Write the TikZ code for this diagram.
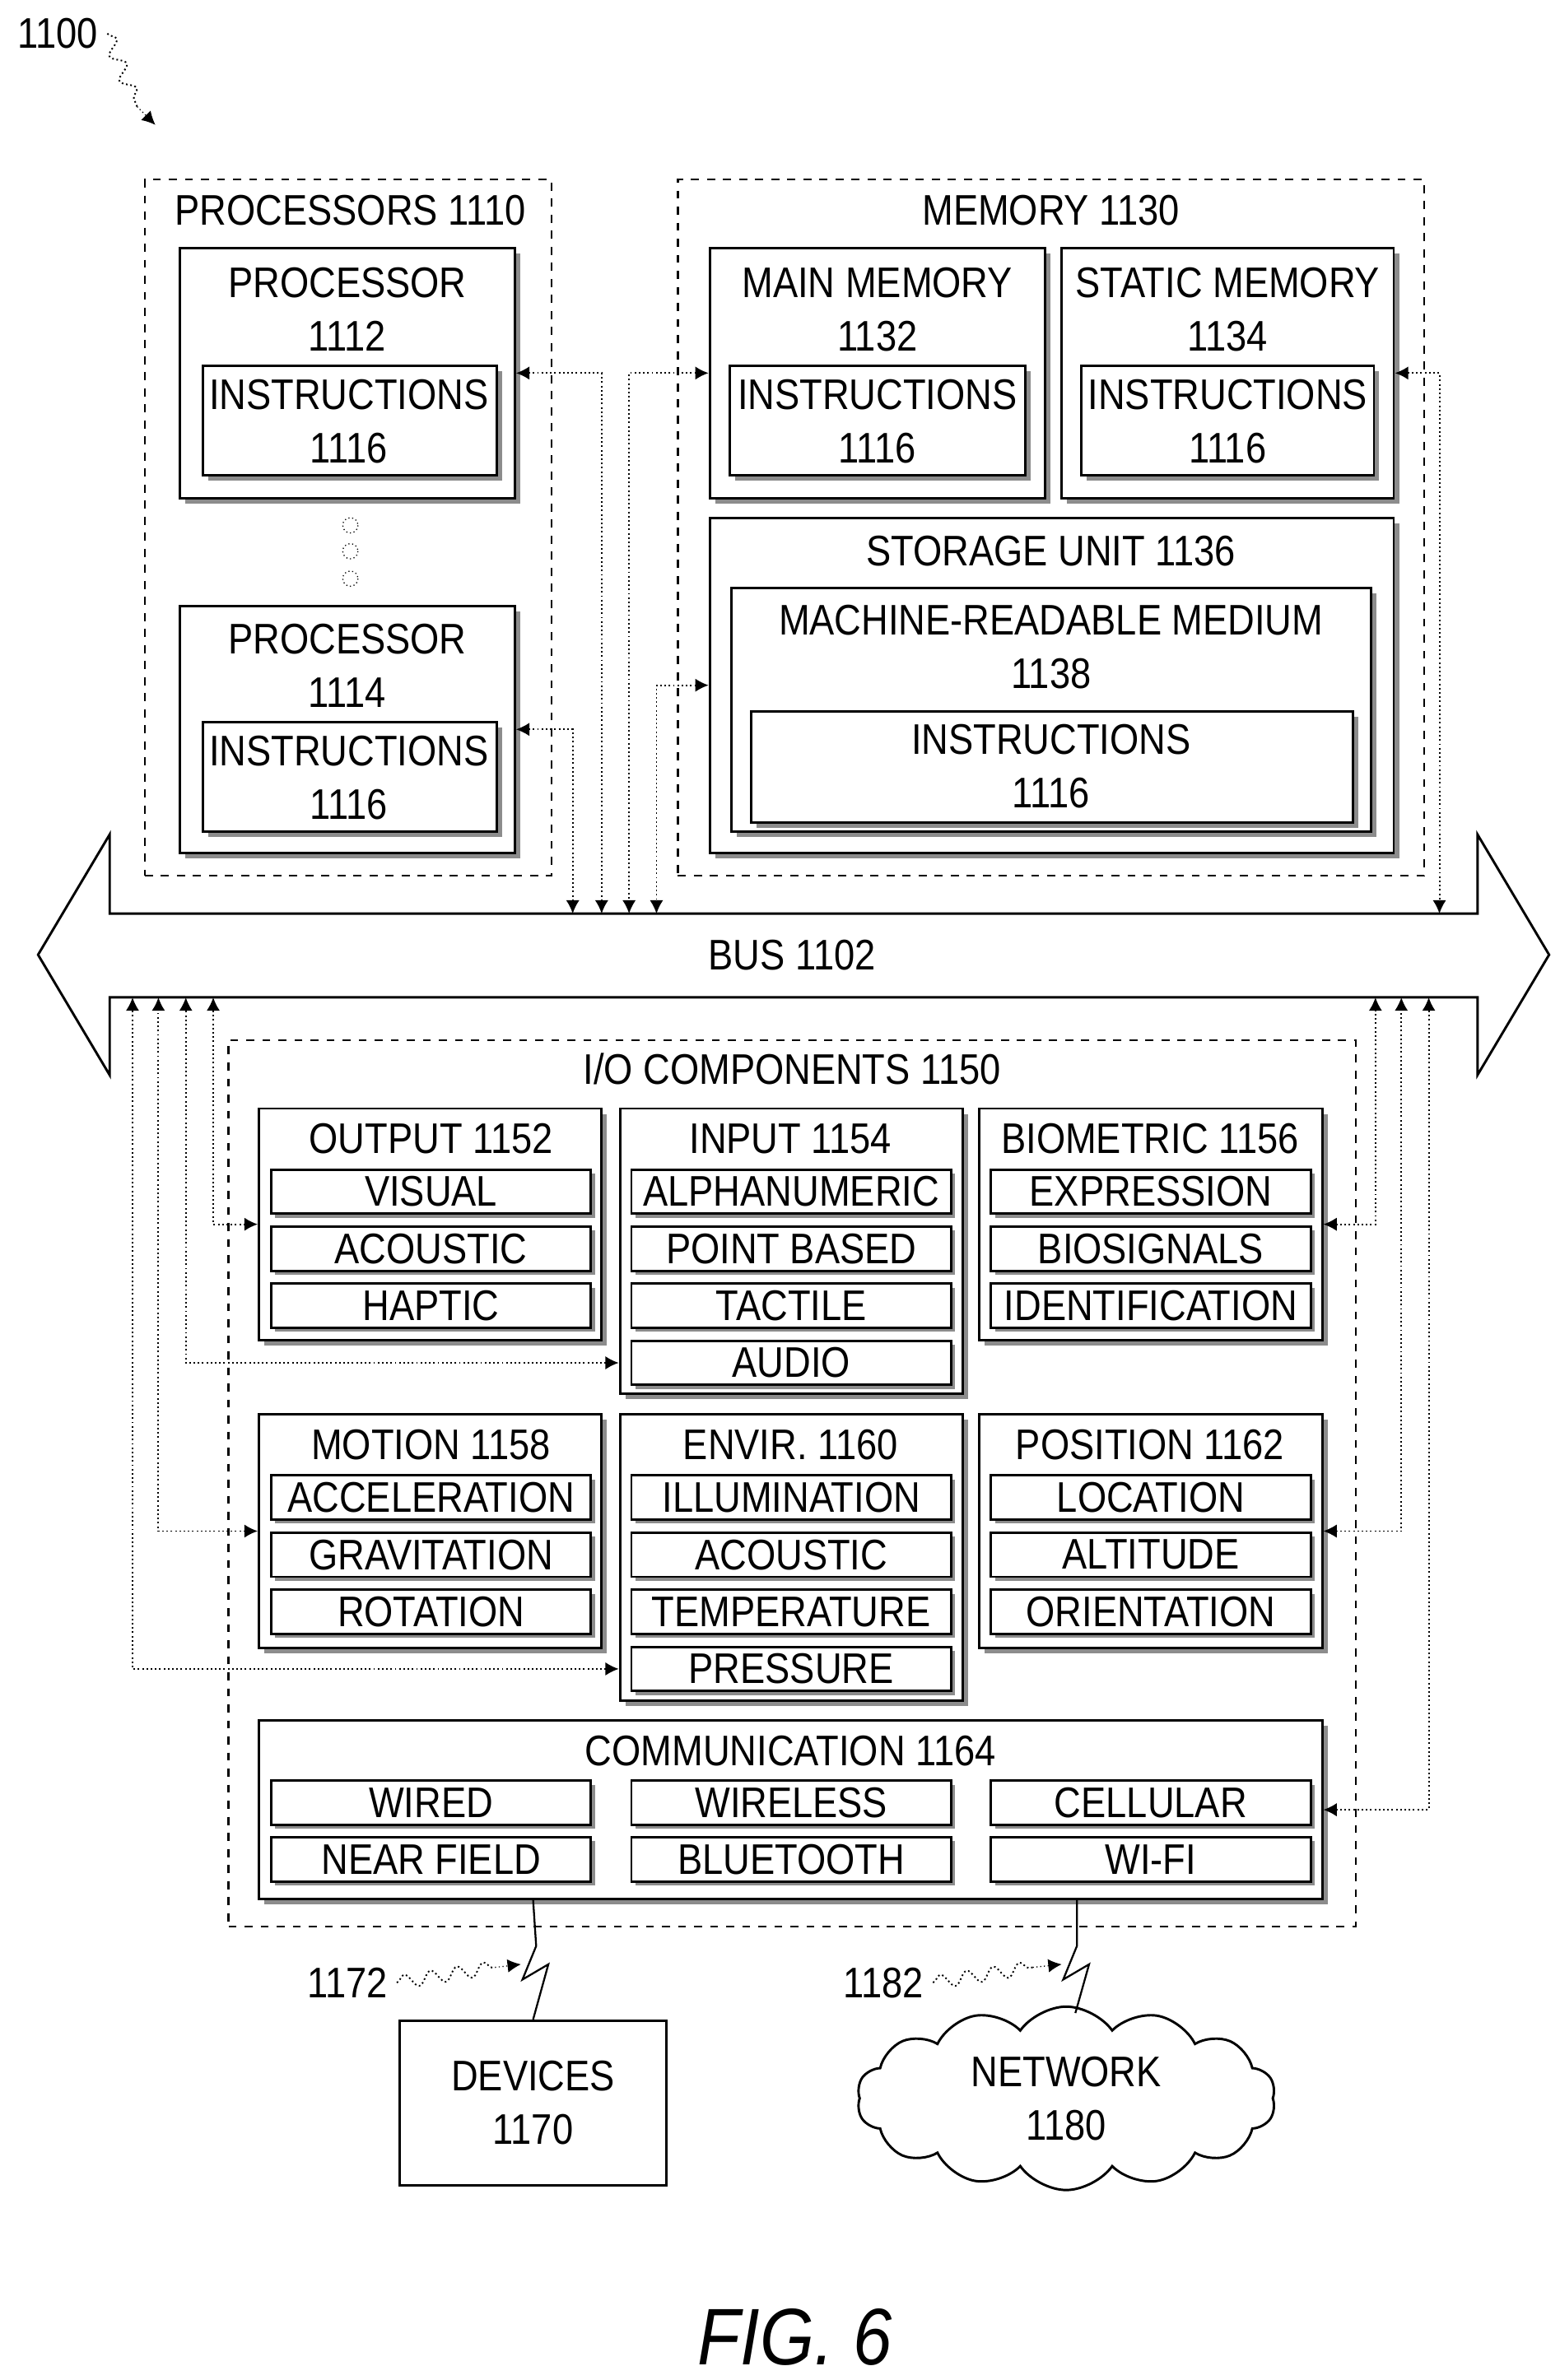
\documentclass[tikz,border=0pt]{standalone}
\usepackage{fontspec}
\setmainfont{Liberation Sans}[FakeStretch=0.87]
\usetikzlibrary{fit,shadows,shapes.symbols,decorations.pathmorphing,arrows.meta}

\tikzset{
  box/.style={draw, line width=0.9pt, fill=white, inner sep=0pt,
    drop shadow={shadow xshift=2pt, shadow yshift=-2pt, fill=black!45, opacity=1}},
  group/.style={draw, dashed, line width=0.7pt, inner sep=0pt},
  sub/.style={draw, line width=0.9pt, fill=white, minimum width=4.2cm, minimum height=0.58cm, inner sep=0pt,
    drop shadow={shadow xshift=1.5pt, shadow yshift=-1.5pt, fill=black!45, opacity=1}},
  conn/.style={densely dotted, line width=0.6pt, -{Latex[length=5pt,width=5pt]}},
  conn2/.style={densely dotted, line width=0.6pt, {Latex[length=5pt,width=5pt]}-{Latex[length=5pt,width=5pt]}},
  lbl/.style={align=center},
  squig/.style={densely dotted, line width=0.6pt, decorate, decoration={snake, amplitude=2.5pt, segment length=10pt}},
}

\begin{document}
\begin{tikzpicture}[x=0.02cm, y=-0.02cm, font=\fontsize{16}{20}\selectfont]
\useasboundingbox (0,0) rectangle (1024,1563);

% reference label
\node (fignum) at (38,22) {1100};
\coordinate (figtip) at (102,82);
\draw[squig] (fignum.east) -- (90,70);
\draw[densely dotted, -{Latex[length=5pt,width=5pt]}] (90,70) -- (figtip);

% processors
\node[group, fit={(95,118) (362,575)}] (procs) {};
\node at (230,138) {PROCESSORS 1110};
\node[box, fit={(118,163) (338,327)}] (p1) {};
\node[lbl] at (228,203) {PROCESSOR\\1112};
\node[box, fit={(133,240) (326,312)}] (p1i) {};
\node[lbl] at (229,277) {INSTRUCTIONS\\1116};
\foreach \y in {345,362,380} \draw[densely dotted] (230,\y) circle (5);
\node[box, fit={(118,398) (338,560)}] (p2) {};
\node[lbl] at (228,437) {PROCESSOR\\1114};
\node[box, fit={(133,474) (326,546)}] (p2i) {};
\node[lbl] at (229,511) {INSTRUCTIONS\\1116};

% memory
\node[group, fit={(445,118) (935,575)}] (mem) {};
\node at (690,138) {MEMORY 1130};
\node[box, fit={(466,163) (686,327)}] (mm) {};
\node[lbl] at (576,203) {MAIN MEMORY\\1132};
\node[box, fit={(479,240) (673,312)}] (mmi) {};
\node[lbl] at (576,277) {INSTRUCTIONS\\1116};
\node[box, fit={(697,163) (915,327)}] (sm) {};
\node[lbl] at (806,203) {STATIC MEMORY\\1134};
\node[box, fit={(710,240) (902,312)}] (smi) {};
\node[lbl] at (806,277) {INSTRUCTIONS\\1116};
\node[box, fit={(466,340) (915,560)}] (su) {};
\node at (690,362) {STORAGE UNIT 1136};
\node[box, fit={(480,386) (900,546)}] (mr) {};
\node[lbl] at (690,425) {MACHINE-READABLE MEDIUM\\1138};
\node[box, fit={(493,467) (888,540)}] (mri) {};
\node[lbl] at (690,503) {INSTRUCTIONS\\1116};

% bus
\draw[line width=0.9pt] (72,600) -- (72,548) -- (25,627) -- (72,706) -- (72,655) -- (970,655)
  -- (970,706) -- (1017,627) -- (970,548) -- (970,600) -- cycle;
\node (bus) at (520,627) {BUS 1102};
\foreach \n/\x in {a/376,b/395,c/413,d/431,e/945} \coordinate (t\n) at (\x,600);
\foreach \n/\x in {a/87,b/104,c/122,d/140,e/903,f/920,g/938} \coordinate (u\n) at (\x,655);

% i/o components
\node[group, fit={(150,683) (890,1265)}] (io) {};
\node at (520,702) {I/O COMPONENTS 1150};
\node[box, fit={(170,728) (395,880)}] (out) {};
\node at (283,748) {OUTPUT 1152};
\node[box, fit={(407,728) (632,915)}] (inp) {};
\node at (519,748) {INPUT 1154};
\node[box, fit={(643,728) (868,880)}] (bio) {};
\node at (755,748) {BIOMETRIC 1156};
\foreach \t [count=\i] in {VISUAL,ACOUSTIC,HAPTIC}
  \node[sub] (out\i) at (283,745+37.5*\i) {\t};
\foreach \t [count=\i] in {ALPHANUMERIC,POINT BASED,TACTILE,AUDIO}
  \node[sub] (inp\i) at (519.5,745+37.5*\i) {\t};
\foreach \t [count=\i] in {EXPRESSION,BIOSIGNALS,IDENTIFICATION}
  \node[sub] (bio\i) at (755.5,745+37.5*\i) {\t};

\node[box, fit={(170,929) (395,1082)}] (mot) {};
\node at (283,949) {MOTION 1158};
\node[box, fit={(407,929) (632,1117)}] (env) {};
\node at (519,949) {ENVIR. 1160};
\node[box, fit={(643,929) (868,1082)}] (pos) {};
\node at (755,949) {POSITION 1162};
\foreach \t [count=\i] in {ACCELERATION,GRAVITATION,ROTATION}
  \node[sub] (mot\i) at (283,946+37.5*\i) {\t};
\foreach \t [count=\i] in {ILLUMINATION,ACOUSTIC,TEMPERATURE,PRESSURE}
  \node[sub] (env\i) at (519.5,946+37.5*\i) {\t};
\foreach \t [count=\i] in {LOCATION,ALTITUDE,ORIENTATION}
  \node[sub] (pos\i) at (755.5,946+37.5*\i) {\t};

\node[box, fit={(170,1130) (868,1247)}] (com) {};
\node at (519,1150) {COMMUNICATION 1164};
\foreach \t/\x/\y [count=\i] in {WIRED/283/1184,WIRELESS/519.5/1184,CELLULAR/755.5/1184,
    NEAR FIELD/283/1221,BLUETOOTH/519.5/1221,WI-FI/755.5/1221}
  \node[sub] (com\i) at (\x,\y) {\t};

% connectors to the bus
\draw[conn2] (p1.east) -| (tb);
\draw[conn2] (p2.east) -| (ta);
\draw[conn2] (mm.west) -| (tc);
\draw[conn2] (su.west) -| (td);
\draw[conn2] (sm.east) -| (te);
\draw[conn2] (out.west) -| (ud);
\draw[conn2] (inp.west |- inp4) -| (uc);
\draw[conn2] (mot.west) -| (ub);
\draw[conn2] (env.west |- env4) -| (ua);
\draw[conn2] (bio.east) -| (ue);
\draw[conn2] (pos.east) -| (uf);
\draw[conn2] (com.east) -| (ug);

% devices and network
\node[draw, line width=0.9pt, minimum width=3.5cm, minimum height=2.16cm, lbl] (dev) at (350,1381) {DEVICES\\1170};
\node[cloud, draw, line width=0.9pt, cloud puffs=14, cloud puff arc=110, aspect=2.6,
  minimum width=5.5cm, minimum height=2.4cm, lbl] (net) at (700,1378) {NETWORK\\1180};
\draw[line width=0.7pt] (com.south -| dev.north) -- (352,1278) -- (343,1300) -- (360,1290) -- (dev.north);
\draw[line width=0.7pt] (com.south -| 707,0) -- (707,1278) -- (698,1300) -- (715,1290) -- (706,1322);
\node (l1172) at (228,1302) {1172};
\node (l1182) at (580,1302) {1182};
\draw[squig] (l1172.east) -- (325,1292);
\draw[densely dotted, -{Latex[length=5pt,width=5pt]}] (325,1292) -- (342,1290);
\draw[squig] (l1182.east) -- (678,1292);
\draw[densely dotted, -{Latex[length=5pt,width=5pt]}] (678,1292) -- (697,1290);

\node[font=\fontsize{30}{36}\selectfont\itshape] (fig) at (522,1535) {FIG. 6};
\end{tikzpicture}
\end{document}
